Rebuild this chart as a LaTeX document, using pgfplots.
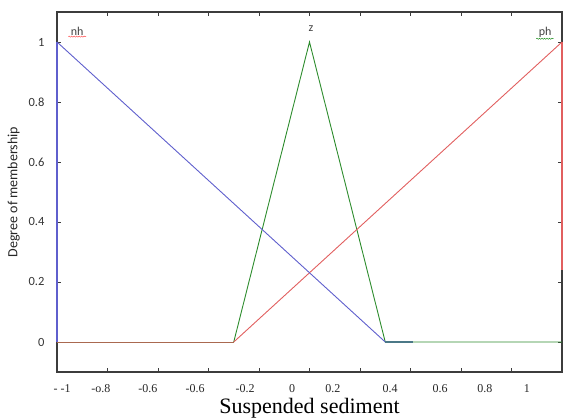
\documentclass[border=0pt]{standalone}
\usepackage{fontspec}
\setmainfont{Liberation Serif}
\newfontfamily\carlito{Carlito}
\usepackage{pgfplots}
\pgfplotsset{compat=1.18}
\usetikzlibrary{decorations.pathmorphing}
\definecolor{cblue}{RGB}{95,95,205}
\definecolor{cgreen}{RGB}{45,140,45}
\definecolor{cred}{RGB}{225,95,95}
\definecolor{cbrown}{RGB}{170,105,80}
\definecolor{cteal}{RGB}{75,120,135}
\definecolor{cframe}{RGB}{60,60,60}
\begin{document}
\begin{tikzpicture}
\begin{axis}[
  set layers,
  scale only axis,
  width=505pt, height=360pt,
  xmin=-1, xmax=1, ymin=-0.1, ymax=1.1,
  axis line style={cframe, line width=1.1pt},
  tick style={cframe, line width=0.8pt},
  major tick length=4pt,
  tick align=inside,
  xtick={-1,-0.8,-0.6,-0.4,-0.2,0,0.2,0.4,0.6,0.8,1},
  xticklabels={},
  extra x ticks={-0.980,-0.826,-0.640,-0.453,-0.255,-0.069,0.093,0.319,0.517,0.695,0.861},
  extra x tick labels={- -1,-o.8,-0.6,-0.6,-0.2,0,0.2,0.4,0.6,0.8,1},
  extra x tick style={major tick length=0pt, xticklabel style={font=\fontsize{12}{12}\selectfont, text=black!85, inner sep=0pt, yshift=-12pt}},
  ytick={0,0.2,0.4,0.6,0.8,1},
  yticklabels={0,0.2,0.4,0.6,0.8,1},
  yticklabel style={font=\carlito\fontsize{12.5}{12.5}\selectfont, text=black!80, xshift=-9pt},
  xlabel={Suspended sediment},
  xlabel style={font=\fontsize{22}{22}\selectfont, yshift=-2.5pt},
  ylabel={Degree of membership},
  ylabel style={font=\carlito\fontsize{14}{14}\selectfont, text=black!85, yshift=2pt},
  clip=false,
]
% z (green)
\addplot[cgreen, line width=0.9pt] coordinates {(-0.3,0) (0,1) (0.3,0) (1,0)};
% ph (red)
\addplot[cred, line width=0.9pt] coordinates {(-0.3,0) (1,1)};
\addplot[cred, line width=1.4pt] coordinates {(1,1) (1,0.24)};
\addplot[cbrown, line width=0.9pt] coordinates {(-1,0) (-0.3,0)};
% nh (blue)
\addplot[cblue, line width=1.4pt] coordinates {(-1,0) (-1,1)};
\addplot[cblue, line width=0.9pt] coordinates {(-1,1) (0.3,0)};
\addplot[cteal, line width=1.1pt] coordinates {(0.3,0) (0.41,0)};
% MF names
\node[font=\carlito\fontsize{12}{12}\selectfont, text=black!75] (nh) at (axis cs:-0.92,1.037) {nh};
\node[font=\carlito\fontsize{12}{12}\selectfont, text=black!75] (z) at (axis cs:0.006,1.043) {z};
\node[font=\carlito\fontsize{12}{12}\selectfont, text=black!75] (ph) at (axis cs:0.933,1.033) {ph};
\draw[red!80, line width=0.4pt, decorate, decoration={snake, amplitude=0.6pt, segment length=2.5pt}] ([xshift=1pt,yshift=2pt]nh.south west) -- ([xshift=-1pt,yshift=2pt]nh.south east);
\draw[green!50!black, line width=0.4pt, decorate, decoration={snake, amplitude=0.6pt, segment length=2.5pt}] ([xshift=1pt,yshift=2pt]ph.south west) -- ([xshift=-1pt,yshift=2pt]ph.south east);
\coordinate (sw) at (rel axis cs:0,0);
\coordinate (ne) at (rel axis cs:1,1);
\end{axis}
\path (sw) ++(-57pt,-47pt) coordinate (bl);
\path (ne) ++(1pt,12pt) coordinate (tr);
\pgfresetboundingbox
\path (bl) rectangle (tr);
\end{tikzpicture}
\end{document}
